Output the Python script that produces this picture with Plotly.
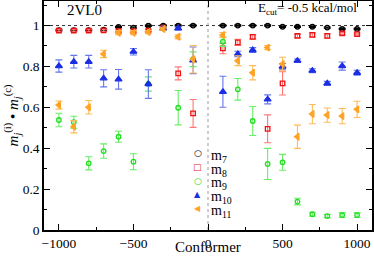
import plotly.graph_objects as go

conformers = [-1000, -900, -800, -700, -600, -500, -400, -300, -200, -100,
              100, 200, 300, 400, 500, 600, 700, 800, 900, 1000]

m7 = [0.978, 0.978, 0.978, 0.980, 0.993, 0.990, 0.999, 1.000, 1.000, 1.000,
      1.000, 1.000, 1.000, 1.000, 0.994, 0.994, 0.994, 0.990, 0.983, 0.983]
m7_err = [0.003] * 20

m8 = [0.975, 0.975, 0.975, 0.976, 0.973, 0.972, 0.975, 0.990, 0.766, 0.570,
      0.888, 0.918, 0.945, 0.495, 0.717, 0.949, 0.954, 0.949, 0.962, 0.958]
m8_err = [0.005, 0.005, 0.005, 0.005, 0.005, 0.005, 0.005, 0.005, 0.032, 0.068,
          0.026, 0.015, 0.010, 0.068, 0.057, 0.008, 0.010, 0.010, 0.006, 0.005]

m9 = [0.538, 0.527, 0.326, 0.386, 0.456, 0.334, 0.714, 0.985, 0.598, 0.835,
      0.921, 0.688, 0.533, 0.323, 0.331, 0.139, 0.077, 0.068, 0.073, 0.073]
m9_err = [0.033, 0.029, 0.032, 0.035, 0.027, 0.039, 0.035, 0.005, 0.084, 0.036,
          0.023, 0.053, 0.071, 0.076, 0.039, 0.016, 0.010, 0.008, 0.012, 0.012]

m10 = [0.802, 0.823, 0.823, 0.742, 0.737, 0.872, 0.714, 0.985, 0.986, 0.830,
       0.676, 0.861, 0.880, 0.639, 0.799, 0.828, 0.779, 0.717, 0.802, 0.769]
m10_err = [0.030, 0.031, 0.031, 0.042, 0.048, 0.016, 0.070, 0.006, 0.007, 0.065,
           0.076, 0.013, 0.012, 0.022, 0.015, 0.008, 0.010, 0.010, 0.020, 0.012]

m11 = [0.611, 0.505, 0.600, 0.861, 0.965, 0.965, 0.968, 0.983, 0.945, 0.835,
       0.954, 0.828, 0.769, 0.892, 0.812, 0.456, 0.567, 0.562, 0.557, 0.590]
m11_err = [0.020, 0.030, 0.033, 0.018, 0.010, 0.010, 0.008, 0.006, 0.010, 0.067,
           0.012, 0.024, 0.035, 0.010, 0.033, 0.057, 0.047, 0.035, 0.037, 0.040]

series_names = ["m<sub>7</sub>", "m<sub>8</sub>", "m<sub>9</sub>", "m<sub>10</sub>", "m<sub>11</sub>"]

series = [
    (m7, m7_err, "circle-open", "black", "black", 4.5, "○", 9),
    (m8, m8_err, "square-open", "#ee1111", "#ff7777", 4.5, "□", 9),
    (m9, m9_err, "circle-open", "#22dd22", "#66ee66", 4.5, "○", 9),
    (m10, m10_err, "triangle-up", "#1a2ee6", "#6677ee", 6, "▲", 8),
    (m11, m11_err, "triangle-left", "#ffa326", "#ffbb55", 6, "◀", 8),
]

fig = go.Figure()
for name, (y, err, sym, col, ecol, size, glyph, gsize) in zip(series_names, series):
    fig.add_trace(go.Scatter(
        x=conformers, y=y, mode="markers", name=name, showlegend=False,
        marker=dict(symbol=sym, color=col, size=size,
                    line=dict(color=col, width=1.3)),
        error_y=dict(type="data", array=err, visible=True,
                     color=ecol, thickness=1.1, width=3.5),
    ))

# hand-built compact legend (key glyph + label)
leg_x_key, leg_x_text, leg_y0, leg_dy = 0.4695, 0.503, 0.335, 0.0603
for i, (name, s) in enumerate(zip(series_names, series)):
    yy = leg_y0 - i * leg_dy
    fig.add_annotation(xref="paper", yref="paper", x=leg_x_key, y=yy, text=s[6],
                       showarrow=False, xanchor="center", yanchor="middle",
                       font=dict(family="DejaVu Sans", size=s[7], color=s[3]))
    fig.add_annotation(xref="paper", yref="paper", x=leg_x_text, y=yy, text=name,
                       showarrow=False, xanchor="left", yanchor="middle", yshift=-3,
                       font=dict(family="Liberation Serif", size=14, color="black"))

fig.add_shape(type="line", xref="paper", x0=0, x1=1, yref="y", y0=1, y1=1,
              line=dict(color="#333333", width=1, dash="dot"), layer="below")
fig.add_shape(type="line", xref="x", x0=0, x1=0, yref="paper", y0=0, y1=1,
              line=dict(color="#999999", width=1, dash="dot"), layer="below")

fig.add_annotation(x=-830, y=1.075, xref="x", yref="y", text="2VL0",
                   showarrow=False, font=dict(size=15, color="black"))
fig.add_annotation(x=325, y=1.085, xref="x", yref="y", xanchor="left",
                   text="E<sub>cut</sub>= -0.5 kcal/mol",
                   showarrow=False, font=dict(size=13, color="black"))

# x-axis title placed as text below the tick labels
fig.add_annotation(xref="paper", yref="paper", x=0.5, y=-0.1135, yanchor="bottom",
                   borderpad=0, text="Conformer", showarrow=False,
                   font=dict(family="Liberation Serif", size=15, color="black"))

axis_common = dict(showline=True, linecolor="black", linewidth=1.5, mirror="allticks",
                   ticks="inside", ticklen=6, tickwidth=1.2, tickcolor="black",
                   showgrid=False, zeroline=False, automargin=False,
                   tickfont=dict(family="Liberation Serif", size=13.5, color="black"))

fig.update_xaxes(range=[-1100, 1100], tickvals=[-1000, -500, 0, 500, 1000],
                 minor=dict(tickvals=[-750, -250, 250, 750], ticks="inside", ticklen=3,
                            tickcolor="black"),
                 **axis_common)
fig.update_yaxes(range=[0, 1.12], tickvals=[0, 0.2, 0.4, 0.6, 0.8, 1],
                 ticktext=["0", "0.2", "0.4", "0.6", "0.8", "1"],
                 minor=dict(tickvals=[0.1, 0.3, 0.5, 0.7, 0.9, 1.1], ticks="inside",
                            ticklen=3, tickcolor="black"),
                 title=dict(text="<i>m</i><sub><i>j</i></sub><sup>(i)</sup> • <i>m</i><sub><i>j</i></sub><sup>(c)</sup>",
                            font=dict(family="Liberation Serif", size=15), standoff=0),
                 **axis_common)

fig.update_layout(
    width=374, height=256,
    margin=dict(l=44, r=2, t=1, b=26, autoexpand=False),
    plot_bgcolor="white", paper_bgcolor="white",
    font=dict(family="Liberation Serif", color="black"),
    showlegend=False,
)

fig.write_html("out.html", config={"displayModeBar": False},
               post_script="document.body.style.margin='0';")
